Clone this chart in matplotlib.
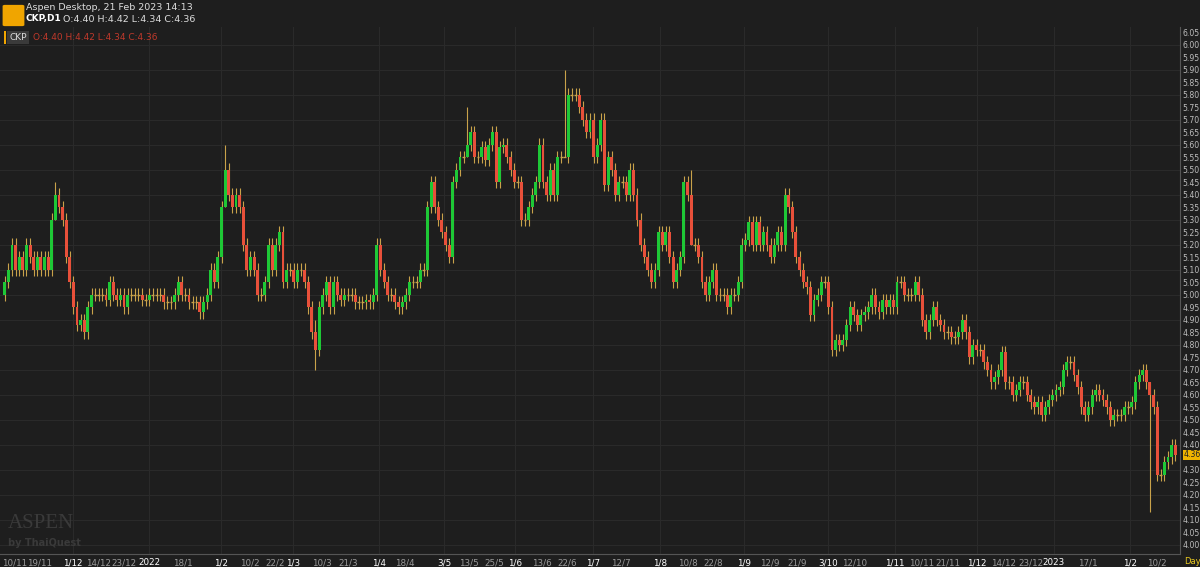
import matplotlib
matplotlib.use("Agg")
import matplotlib.pyplot as plt
from matplotlib.patches import Rectangle, FancyBboxPatch

closes = [5.05,5.10,5.20,5.10,5.15,5.10,5.20,5.15,5.10,5.15,5.10,5.15,5.10,5.30,5.40,5.35,5.30,5.15,5.05,4.95,4.88,4.90,4.85,4.95,5.00,5.00,5.00,5.00,4.98,5.05,5.00,4.98,5.00,4.95,5.00,5.00,5.00,5.00,4.98,4.98,5.00,5.00,5.00,5.00,4.97,4.97,4.97,5.00,5.05,5.00,5.00,4.97,4.97,4.97,4.93,4.97,5.00,5.10,5.05,5.15,5.35,5.50,5.40,5.35,5.40,5.35,5.20,5.10,5.15,5.10,5.00,5.00,5.05,5.20,5.10,5.20,5.25,5.05,5.10,5.10,5.05,5.10,5.10,5.05,4.95,4.85,4.78,4.95,5.00,5.05,4.95,5.05,5.00,4.98,5.00,5.00,5.00,4.97,4.97,4.97,4.98,4.97,5.00,5.20,5.10,5.05,5.00,5.00,4.97,
          4.95,4.97,5.00,5.05,5.05,5.05,5.10,5.10,5.35,5.45,5.35,5.30,5.25,5.20,5.15,5.45,5.50,5.55,5.55,5.60,5.65,5.55,5.55,5.59,5.54,5.60,5.65,5.45,5.59,5.60,5.55,5.50,5.45,5.45,5.30,5.30,5.35,5.40,5.45,5.60,5.45,5.40,5.50,5.40,5.55,5.55,5.55,5.80,5.80,5.80,5.75,5.70,5.65,5.70,5.55,5.60,5.70,5.44,5.55,5.50,5.40,5.45,5.45,5.40,5.50,5.40,5.30,5.20,5.15,5.10,5.05,5.10,5.25,5.20,5.25,5.15,5.05,5.10,5.15,5.45,5.40,5.20,5.20,5.15,5.05,5.00,5.05,5.10,5.00,5.00,5.00,4.95,5.00,5.00,5.05,5.20,5.22,5.29,5.20,5.29,5.20,5.25,5.20,5.15,5.20,5.25,5.20,5.40,5.35,
          5.25,5.15,5.10,5.05,5.03,4.92,4.98,5.00,5.05,5.05,4.95,4.78,4.82,4.80,4.82,4.88,4.95,4.92,4.88,4.92,4.93,4.95,5.00,4.95,4.93,4.98,4.95,4.98,4.95,5.05,5.05,5.00,5.00,5.00,5.05,5.00,4.90,4.85,4.90,4.95,4.90,4.88,4.85,4.85,4.83,4.83,4.85,4.90,4.85,4.75,4.80,4.78,4.78,4.73,4.70,4.65,4.67,4.70,4.77,4.65,4.65,4.60,4.62,4.65,4.65,4.60,4.57,4.55,4.57,4.52,4.55,4.58,4.60,4.62,4.63,4.70,4.73,4.73,4.68,4.63,4.55,4.52,4.55,4.60,4.62,4.60,4.58,4.55,4.50,4.52,4.52,4.52,4.55,4.55,4.57,4.65,4.68,4.70,4.65,4.60,4.55,4.28,4.28,4.33,4.35,4.40,4.36]
first_open = 5.00
# notable wick extremes beyond the body: index -> (high, low)
wick_marks = {14: (5.45, 5.30), 61: (5.60, 5.35), 86: (4.90, 4.70),
              155: (5.90, 5.75), 128: (5.75, 5.55), 190: (5.50, 5.38),
              317: (4.30, 4.13)}
tick_labels = ["10/11","19/11","1/12","14/12","23/12","2022","18/1","1/2","10/2","22/2","1/3","10/3","21/3","1/4","18/4","3/5","13/5","25/5","1/6","13/6","22/6","1/7",
               "12/7","1/8","10/8","22/8","1/9","12/9","21/9","3/10","12/10","1/11","10/11","21/11","1/12","14/12","23/12","2023","17/1","1/2","10/2"]
tick_px = [15,40,73,99,124,149,183,221,250,275,293,322,348,379,405,444,469,494,515,542,567,593,
           621,660,688,713,744,770,797,828,855,895,922,948,977,1004,1031,1054,1088,1130,1157]
bold = {"1/12","2022","1/2","1/3","1/4","3/5","1/6","1/7","1/8","1/9","3/10","1/11","2023"}

N = len(closes)
opens = [first_open] + closes[:-1]

BG = "#1e1e1e"; GREEN = "#1ec836"; RED = "#e8503a"; WICK = "#c9a24a"; GRID = "#2b2b2b"
fig = plt.figure(figsize=(12, 5.67), dpi=100, facecolor=BG)
ax = fig.add_axes([0.0, 1 - 554/567, 1180/1200, (554 - 27)/567])
ax.set_facecolor(BG)
s = 1174 / N
left = -0.5 - 3 / s
right = left + 1180 / s
ax.set_xlim(left, right)
ax.set_ylim(4.00 - 9/250, 6.05 + 5/250)

for v in [4.00 + 0.10 * k for k in range(21)]:
    ax.axhline(v, color=GRID, lw=0.7, zorder=0)
xt = [left + px / s for px in tick_px]
for x, lab in zip(xt, tick_labels):
    if lab in bold:
        ax.axvline(x, color=GRID, lw=0.7, zorder=0)

for i, (o, c) in enumerate(zip(opens, closes)):
    top, bot = max(o, c), min(o, c)
    hi, lo = wick_marks.get(i, (top + 0.025, bot - 0.025))
    hi, lo = max(hi, top), min(lo, bot)
    ax.vlines(i, lo, hi, color=WICK, lw=0.8, zorder=2)
    if abs(c - o) < 1e-9:
        ax.hlines(c, i - 0.4, i + 0.4, color=WICK, lw=1, zorder=3)
    else:
        ax.add_patch(Rectangle((i - 0.4, bot), 0.8, top - bot, color=GREEN if c > o else RED, lw=0, zorder=3))

ax.set_xticks(xt)
ax.set_xticklabels(tick_labels, fontsize=6.3)
for lab in ax.get_xticklabels():
    lab.set_color("#ffffff" if lab.get_text() in bold else "#9a9a9a")
ax.tick_params(axis="x", length=0, pad=3)
yt = [4.00 + 0.05 * k for k in range(42)]
ax.set_yticks(yt)
ax.set_yticklabels(["" if abs(v - 4.35) < 1e-6 else f"{v:.2f}" for v in yt], fontsize=5.6, color="#bdbdbd")
ax.yaxis.tick_right()
ax.tick_params(axis="y", length=0, pad=2)
for sp in ax.spines.values():
    sp.set_visible(False)
ax.spines["bottom"].set_visible(True); ax.spines["bottom"].set_color("#555555")
ax.spines["right"].set_visible(True); ax.spines["right"].set_color("#555555")

ax.text(1.003, 4.36, "4.36", transform=ax.get_yaxis_transform(), fontsize=5.6, color="#222222", va="center", zorder=10,
        bbox=dict(boxstyle="square,pad=0.1", fc="#f0b400", ec="none"))
fig.text(1184/1200, 1 - 561/567, "Day", fontsize=6, color="#e8c820", va="center")

# header
fig.add_artist(FancyBboxPatch((5/1200, 1 - 25/567), 17/1200, 19/567, boxstyle="round,pad=0.002", fc="#f0a500", ec="none", transform=fig.transFigure))
fig.text(26/1200, 1 - 8/567, "Aspen Desktop, 21 Feb 2023 14:13", fontsize=6.8, color="#dddddd", va="center")
fig.text(26/1200, 1 - 19/567, "CKP,D1", fontsize=6.5, color="#ffffff", fontweight="bold", va="center")
fig.text(63/1200, 1 - 19/567, "O:4.40 H:4.42 L:4.34 C:4.36", fontsize=6.8, color="#dddddd", va="center")
fig.add_artist(Rectangle((4/1200, 1 - 44/567), 1.5/1200, 13/567, fc="#f0a500", ec="none", transform=fig.transFigure))
fig.text(9/1200, 1 - 37.5/567, "CKP", fontsize=6.5, color="#dddddd", va="center",
         bbox=dict(boxstyle="square,pad=0.25", fc="#3a3a3a", ec="none"))
fig.text(33/1200, 1 - 37.5/567, "O:4.40 H:4.42 L:4.34 C:4.36", fontsize=6.5, color="#c0392b", va="center")
fig.text(8/1200, 1 - 523/567, "ASPEN", fontsize=15, color="#3a3a3a", va="center", family="Liberation Serif")
fig.text(8/1200, 1 - 543/567, "by ThaiQuest", fontsize=7, color="#3a3a3a", va="center", fontweight="bold")

fig.savefig("out.png", dpi=100, facecolor=BG)
